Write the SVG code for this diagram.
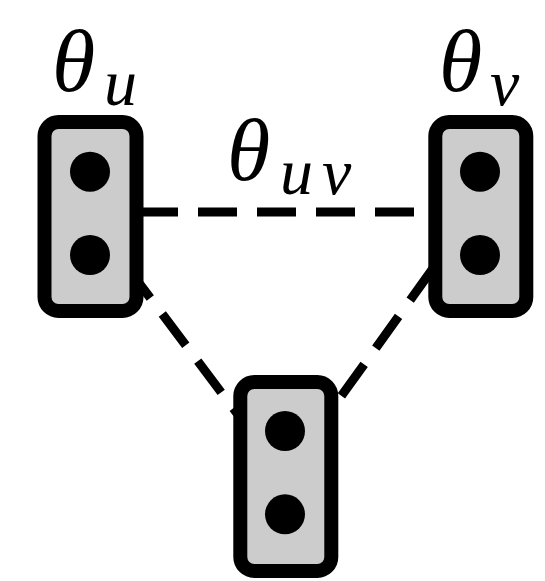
<svg xmlns="http://www.w3.org/2000/svg" width="545" height="581" viewBox="0 0 545 581">
<style>
.box{fill:#cccccc;stroke:#000;stroke-width:14}
.dot{fill:#000}
.edge{stroke:#000;stroke-width:9;stroke-dasharray:39 20;fill:none}
.lab{font-family:"Liberation Serif",serif;font-style:italic;fill:#000}
.big{font-size:88px}
.sub{font-size:66px}
</style>
<rect width="545" height="581" fill="#fff"/>
<g id="connectors">
<line class="edge" x1="139" y1="212" x2="428" y2="212"/>
<line class="edge" x1="89" y1="216.5" x2="284.5" y2="476.5" style="stroke-dashoffset:55"/>
<line class="edge" x1="472" y1="214" x2="284" y2="476" style="stroke-dashoffset:51"/>
</g>
<g id="node-u">
<rect class="box" x="44.5" y="122" width="92" height="189" rx="14"/>
<circle class="dot" cx="90" cy="171.7" r="20"/>
<circle class="dot" cx="90" cy="255" r="20"/>
</g>
<g id="node-v">
<rect class="box" x="435.3" y="122" width="91" height="189" rx="14"/>
<circle class="dot" cx="480" cy="171.7" r="20"/>
<circle class="dot" cx="480" cy="255" r="20"/>
</g>
<g id="node-w">
<rect class="box" x="240.3" y="382" width="91" height="189" rx="14"/>
<circle class="dot" cx="285" cy="431" r="20"/>
<circle class="dot" cx="285" cy="514.3" r="20"/>
</g>
<g id="labels">
<text class="lab big" x="52" y="91">θ</text>
<text class="lab sub" x="104" y="105">u</text>
<text class="lab big" x="439" y="91">θ</text>
<text class="lab sub" x="490" y="105">v</text>
<text class="lab big" x="227" y="180">θ</text>
<text class="lab sub" y="194"><tspan x="280">u</tspan><tspan x="322">v</tspan></text>
</g>
</svg>
